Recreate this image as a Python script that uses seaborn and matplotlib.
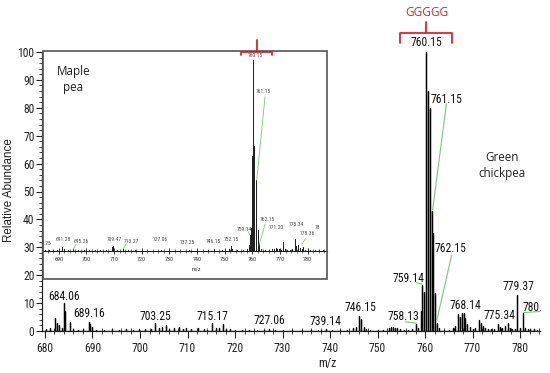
"""Stick spectrum (green chickpea) with the maple pea spectrum as an inset."""
import matplotlib
matplotlib.use("Agg")
import matplotlib.pyplot as plt
import pandas as pd
import seaborn as sns
from matplotlib.patches import Rectangle
from matplotlib.ticker import MultipleLocator

# ---- main spectrum (green chickpea) ----
main_mz = [680.3, 681.0, 682.2, 682.6, 683.0, 683.5, 684.06, 684.25, 685.2, 686.0,
           687.0, 688.0, 689.16, 689.5, 689.85, 690.8, 692.5, 694.0, 695.5, 697.0,
           698.5, 699.8, 701.0, 702.3, 703.25, 704.1, 704.7, 705.4, 706.2, 707.2,
           708.2, 709.0, 709.6, 710.8, 712.2, 713.4, 714.2, 715.17, 716.0, 716.6,
           717.4, 718.2, 719.0, 720.0, 721.5, 723.0, 724.6, 726.0, 727.06, 728.5,
           730.0, 732.0, 734.0, 736.0, 737.5, 739.14, 740.5, 742.0, 743.5, 744.8,
           745.5, 746.15, 746.6, 747.1, 747.6, 748.5, 750.0, 751.2, 752.4, 752.9,
           753.3, 753.7, 754.2, 754.7, 755.5, 756.5, 757.3, 758.13, 758.6, 759.1,
           759.4, 759.75, 760.3, 760.55, 761.1, 761.5, 761.75, 762.15, 762.5, 763.0,
           764.0, 765.0, 765.8, 766.4, 766.9, 767.3, 767.7, 768.14, 768.5, 768.9,
           769.4, 770.0, 770.6, 771.3, 771.7, 772.2, 772.7, 773.3, 773.9, 774.5,
           775.34, 775.8, 776.3, 776.8, 777.4, 777.9, 778.4, 779.0, 779.37, 779.9,
           780.6, 781.1, 781.6, 782.2, 782.9, 783.6]
main_h = [0.6, 1.0, 4.7, 3.0, 2.0, 1.2, 10.0, 7.0, 3.3, 0.8,
          0.5, 0.6, 3.2, 2.5, 1.4, 0.5, 0.4, 0.6, 0.4, 0.7,
          0.5, 0.6, 0.8, 0.6, 3.0, 1.2, 1.5, 2.0, 0.8, 1.1,
          1.5, 0.8, 1.0, 0.6, 1.2, 0.6, 0.5, 3.0, 1.0, 1.0,
          2.4, 0.8, 0.6, 0.5, 0.4, 0.5, 0.3, 0.4, 0.8, 0.4,
          0.3, 0.4, 0.3, 0.4, 0.3, 0.6, 0.3, 0.4, 0.3, 1.0,
          1.5, 5.4, 4.3, 1.6, 0.8, 0.4, 0.4, 0.5, 1.2, 1.4,
          1.3, 1.2, 1.0, 0.8, 0.5, 0.5, 0.6, 2.6, 1.2, 7.0,
          16.5, 14.0, 100.0, 86.0, 80.0, 43.0, 35.0, 13.5, 3.0, 1.0,
          0.4, 0.5, 1.0, 1.8, 6.0, 5.0, 6.3, 6.5, 4.5, 2.5,
          1.5, 0.8, 1.0, 4.0, 3.0, 1.8, 1.2, 0.8, 0.6, 0.8,
          2.5, 1.5, 1.0, 1.8, 2.8, 1.2, 0.8, 0.6, 13.0, 1.0,
          6.6, 1.2, 0.8, 0.6, 0.8, 0.5]

main_lbl_text = ["684.06", "689.16", "703.25", "715.17", "727.06", "739.14", "746.15",
                 "758.13", "759.14", "760.15", "761.15", "762.15", "768.14", "775.34",
                 "779.37"]
main_lbl_x = [684.1, 689.3, 703.25, 715.17, 727.3, 739.0, 746.4,
              755.4, 756.5, 760.3, 764.4, 765.3, 768.4, 775.6, 779.6]
main_lbl_y = [12.3, 6.3, 5.1, 5.1, 3.9, 3.3, 8.3,
              5.1, 18.9, 103.3, 83.0, 29.6, 9.0, 5.7, 15.9]
# label cut short by the right edge in the original
edge_lbl_text = "780."
edge_lbl_x = 780.6
edge_lbl_y = 8.3

main_lead_x0 = [755.8, 758.2, 764.5, 765.6, 780.7]
main_lead_y0 = [3.3, 17.3, 81.4, 27.2, 6.6]
main_lead_x1 = [758.25, 759.4, 761.6, 762.5, 784.2]
main_lead_y1 = [2.8, 16.8, 43.4, 3.9, 7.0]

# ---- inset spectrum (maple pea) ----
inset_mz = [685.0, 686.5, 688.0, 689.5, 691.28, 692.0, 693.5, 695.26, 697.0, 699.0,
            701.0, 703.0, 705.0, 707.0, 709.2, 709.47, 709.8, 711.0, 713.27, 715.0,
            717.5, 720.0, 723.0, 727.06, 731.0, 735.0, 737.25, 741.0, 744.0, 746.15,
            749.0, 751.5, 752.15, 752.6, 754.5, 756.5, 758.0, 758.7, 759.14, 759.6,
            760.0, 760.15, 760.4, 760.7, 761.15, 761.5, 762.15, 762.5, 763.2, 764.5,
            766.0, 767.2, 767.8, 768.4, 769.0, 769.7, 770.5, 771.2, 771.8, 772.5,
            773.5, 774.4, 775.34, 775.9, 776.5, 777.2, 778.0, 778.36, 779.2, 780.0,
            781.0, 782.5, 784.0, 785.5]
inset_h = [0.3, 0.3, 0.5, 0.4, 2.3, 0.8, 0.4, 1.0, 0.3, 0.3,
           0.3, 0.3, 0.3, 0.4, 2.0, 2.8, 1.8, 0.4, 1.3, 0.3,
           0.3, 0.2, 0.2, 0.5, 0.2, 0.2, 0.4, 0.2, 0.3, 0.9,
           0.3, 0.8, 2.5, 1.0, 0.4, 0.5, 1.0, 3.0, 8.5, 12.0,
           50.0, 100.0, 80.0, 55.0, 37.0, 14.0, 11.0, 4.0, 1.0, 0.4,
           0.5, 0.8, 1.2, 1.5, 1.2, 0.8, 0.6, 4.9, 1.0, 0.6,
           0.5, 0.8, 6.1, 2.5, 3.2, 1.5, 1.0, 2.0, 0.6, 0.5,
           0.5, 0.4, 0.4, 0.3]

inset_lbl_text = ["1.25", "691.28", "695.26", "709.47", "713.27", "727.06", "737.25",
                  "746.15", "752.15", "759.14", "760.15", "761.15", "762.15", "771.20",
                  "775.34", "778.36", "78"]
inset_lbl_x = [685.6, 691.7, 698.2, 710.0, 716.1, 726.6, 736.4,
               745.8, 752.3, 757.0, 761.1, 764.0, 765.4, 768.8,
               775.8, 779.9, 783.5]
inset_lbl_y = [4.0, 5.8, 5.0, 5.8, 5.2, 5.8, 4.2,
               4.9, 5.8, 11.0, 102.6, 83.4, 16.6, 12.4,
               14.1, 9.3, 12.4]

inset_lead_x0 = [695.3, 713.4, 758.6, 764.6, 764.6, 777.9]
inset_lead_y0 = [1.0, 1.2, 10.0, 80.8, 14.0, 3.5]
inset_lead_x1 = [696.3, 714.4, 759.1, 761.6, 762.4, 779.2]
inset_lead_y1 = [3.5, 3.8, 8.5, 37.0, 3.0, 6.5]

RED = "#e8202a"
LEAD = "#7cc47c"
W, H = 550, 373


def stick_frame(mz, h, lo, hi):
    # each peak becomes a 0 -> h -> 0 excursion of one continuous trace
    xs, ys = [lo], [0.0]
    for m, v in zip(mz, h):
        xs += [m, m, m]
        ys += [0.0, v, 0.0]
    xs.append(hi)
    ys.append(0.0)
    return pd.DataFrame({"mz": xs, "abundance": ys})


def draw_bracket(ax, lo, hi, y, drop, center, rise):
    ax.plot([lo, lo, hi, hi], [drop, y, y, drop], color=RED, lw=1.3, clip_on=False)
    ax.plot([center, center], [y, rise], color=RED, lw=1.3, clip_on=False)


sns.set_style("ticks")
narrow = ["Roboto Condensed", "DejaVu Sans"]
plt.rcParams["font.family"] = narrow
label_font = ["Open Sans", "DejaVu Sans"]

fig = plt.figure(figsize=(W / 100, H / 100), dpi=100)

# main axes
ax = fig.add_axes([42 / W, 1 - 331 / H, 498 / W, 279 / H])
sns.lineplot(data=stick_frame(main_mz, main_h, 679.4, 784.2), x="mz", y="abundance",
             sort=False, estimator=None, color="black", lw=0.9, ax=ax)
ax.set_xlim(679.37, 784.2)
ax.set_ylim(0, 100)
ax.xaxis.set_major_locator(MultipleLocator(10))
ax.xaxis.set_minor_locator(MultipleLocator(2))
ax.yaxis.set_major_locator(MultipleLocator(10))
ax.yaxis.set_minor_locator(MultipleLocator(2))
sns.despine(ax=ax)
for s in ("left", "bottom"):
    ax.spines[s].set_color("#222")
    ax.spines[s].set_linewidth(0.9)
ax.tick_params(axis="x", which="major", direction="out", length=5, width=0.8,
               pad=3, labelsize=8.4, colors="#222")
ax.tick_params(axis="x", which="minor", direction="inout", length=5, width=0.6, colors="#222")
ax.tick_params(axis="y", which="major", direction="out", length=4, width=0.8,
               pad=1.5, labelsize=8.4, colors="#222")
ax.tick_params(axis="y", which="minor", direction="out", length=2.5, width=0.6, colors="#222")
ax.set_xlabel("m/z", fontsize=8.5, color="#222")
ax.xaxis.set_label_coords(0.573, -0.093)
ax.set_ylabel("Relative Abundance", fontsize=8.4, color="#222",
              family=["Liberation Sans", "DejaVu Sans"])
ax.yaxis.set_label_coords(-0.054, 0.505)

for t, x, y in zip(main_lbl_text, main_lbl_x, main_lbl_y):
    ax.text(x, y, t, ha="center", va="center", fontsize=8.4, color="#111", clip_on=False)
ax.text(edge_lbl_x, edge_lbl_y, edge_lbl_text, ha="left", va="center", fontsize=8.4,
        color="#111", clip_on=False)
for x0, y0, x1, y1 in zip(main_lead_x0, main_lead_y0, main_lead_x1, main_lead_y1):
    ax.plot([x0, x1], [y0, y1], color=LEAD, lw=0.8, clip_on=False)

draw_bracket(ax, 754.7, 765.6, 106.8, 103.2, 760.3, 110.8)
ax.text(760.3, 114.3, "GGGGG", color=RED, ha="center", va="center", fontsize=8.6,
        family=label_font, clip_on=False)

# inset axes
iax = fig.add_axes([43 / W, 1 - 251 / H, 284 / W, 191 / H])
iax.patch.set_alpha(0)
sns.lineplot(data=stick_frame(inset_mz, inset_h, 684.3, 787.0), x="mz", y="abundance",
             sort=False, estimator=None, color="#222", lw=0.7, ax=iax)
iax.set_xlim(684.32, 787.0)
iax.set_ylim(0, 100)
iax.xaxis.set_major_locator(MultipleLocator(10))
iax.xaxis.set_minor_locator(MultipleLocator(2))
iax.set_yticks([])
for s in ("left", "right", "top"):
    iax.spines[s].set_visible(False)
iax.spines["bottom"].set_color("#222")
iax.spines["bottom"].set_linewidth(0.8)
iax.tick_params(axis="x", which="major", direction="inout", length=4, width=0.7,
                pad=2.5, labelsize=4.4, colors="#333")
iax.tick_params(axis="x", which="minor", direction="inout", length=3, width=0.5, colors="#333")
iax.set_xlabel("m/z", fontsize=4.4, color="#333")
iax.xaxis.set_label_coords(0.541, -0.082)
iax.set_ylabel("")

for t, x, y in zip(inset_lbl_text, inset_lbl_x, inset_lbl_y):
    iax.text(x, y, t, ha="center", va="center", fontsize=4.0, color="#444")
for x0, y0, x1, y1 in zip(inset_lead_x0, inset_lead_y0, inset_lead_x1, inset_lead_y1):
    iax.plot([x0, x1], [y0, y1], color=LEAD, lw=0.6)

draw_bracket(iax, 755.8, 767.2, 104.3, 102.6, 761.6, 110.7)

fig.add_artist(Rectangle((43 / W, 1 - 279 / H), 284 / W, 228 / H, transform=fig.transFigure,
                         fill=False, ec="#555", lw=1.2))

fig.text(73.5 / W, 1 - 79 / H, "Maple\npea", ha="center", va="center", fontsize=8.4,
         color="#222", linespacing=1.3, family=label_font)
fig.text(501.7 / W, 1 - 165 / H, "Green\nchickpea", ha="center", va="center", fontsize=8.4,
         color="#222", linespacing=1.3, family=label_font)

fig.savefig("out.png", dpi=100)
